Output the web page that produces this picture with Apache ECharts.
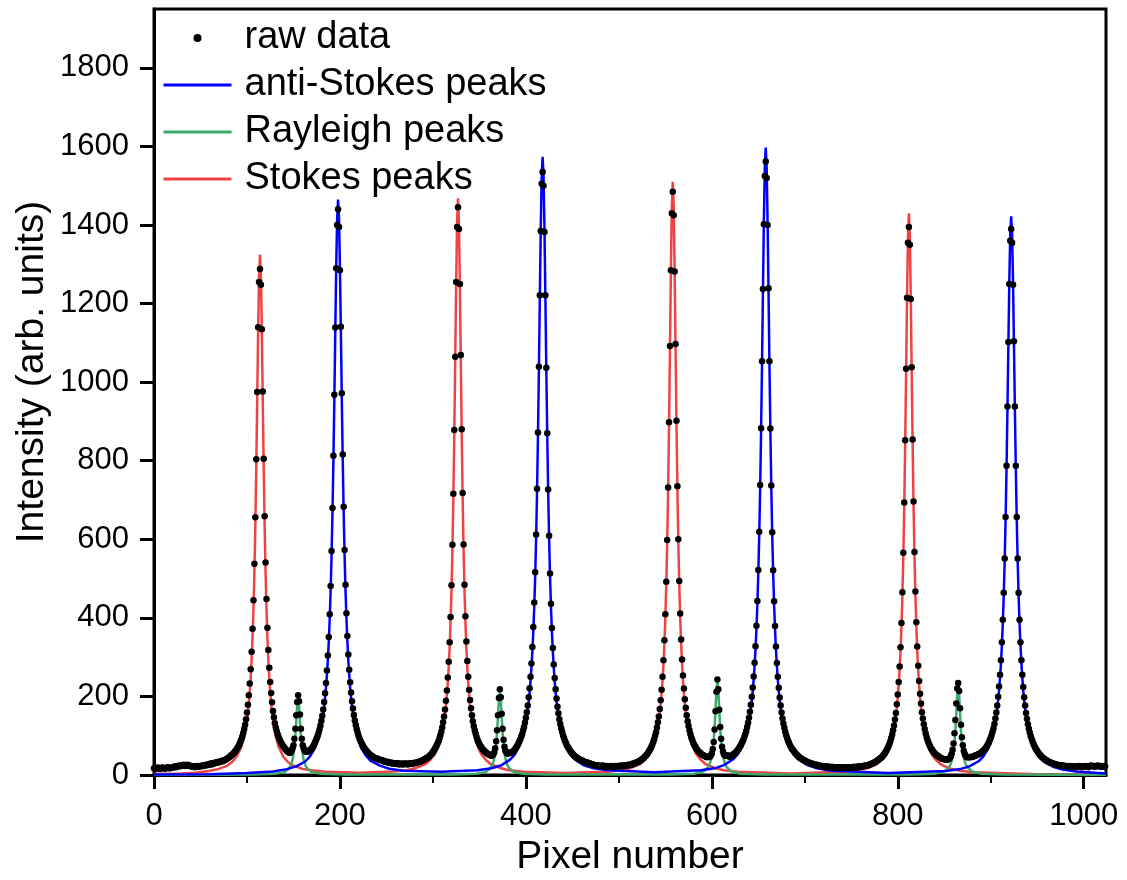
<!DOCTYPE html>
<html>
<head>
<meta charset="utf-8">
<script src="https://cdn.jsdelivr.net/npm/echarts@6/dist/echarts.min.js"></script>
<style>
html,body{margin:0;padding:0;background:#fff;}
#chart{width:1127px;height:880px;}
</style>
</head>
<body>
<div id="chart"></div>
<script>
// raw data: intensity per pixel number 0..1023
const rawData = [
17,18,16,17,19,18,17,16,18,19,
18,17,16,18,19,20,18,17,18,19,
20,19,21,22,20,21,23,24,22,23,
25,24,26,25,23,24,26,25,24,22,
23,22,21,22,20,21,22,23,21,22,
23,22,24,23,25,24,26,25,27,26,
28,29,27,30,29,31,30,32,33,32,
34,33,35,36,35,37,38,39,41,42,
44,46,47,50,51,54,56,60,62,66,
70,74,79,85,91,98,107,117,128,142,
159,179,203,233,269,314,372,445,538,656,
804,975,1140,1255,1288,1248,1135,976,805,659,
541,448,375,318,273,237,209,185,163,147,
132,121,112,104,97,91,86,81,77,73,
70,67,64,61,59,57,56,58,62,68,
76,92,118,152,186,203,188,154,118,92,
76,68,63,60,59,59,60,62,64,66,
69,72,77,82,87,93,99,107,116,126,
138,151,167,186,208,234,266,304,351,409,
481,570,680,813,968,1139,1290,1400,1440,1395,
1285,1141,972,816,683,573,484,412,354,307,
268,236,210,188,169,153,139,127,117,108,
100,93,87,82,77,73,69,66,63,60,
57,55,52,50,49,47,46,44,43,42,
42,40,39,39,38,37,36,36,34,34,
33,34,32,31,32,30,31,29,30,29,
29,28,30,29,27,28,29,28,27,29,
28,29,28,27,29,29,30,28,29,30,
31,30,31,32,33,34,33,35,36,37,
39,40,41,43,44,46,48,50,53,55,
59,62,66,70,75,80,86,93,101,110,
121,134,149,167,189,215,248,288,338,402,
483,586,716,878,1065,1255,1395,1445,1390,1250,
1069,880,718,587,484,404,340,290,250,217,
191,170,152,137,124,114,105,97,90,84,
79,74,71,67,64,62,59,58,55,54,
52,51,50,49,50,53,58,68,86,114,
152,196,218,198,156,118,90,72,62,57,
55,55,56,57,57,58,60,62,65,68,
72,76,80,86,91,98,104,113,122,133,
146,160,177,198,221,250,284,326,377,439,
516,612,729,872,1039,1221,1385,1505,1535,1500,
1382,1221,1037,870,727,609,513,436,374,323,
281,247,218,195,174,157,142,130,119,110,
101,94,87,82,76,72,68,64,60,57,
54,52,49,47,45,44,42,41,39,38,
37,36,34,34,33,32,31,31,30,29,
28,27,27,26,25,24,25,24,23,24,
23,22,23,24,22,22,21,23,22,21,
22,21,23,22,21,22,23,21,22,23,
22,23,24,22,23,24,23,25,24,25,
26,25,27,26,27,29,28,29,31,32,
33,34,35,37,38,40,42,44,47,49,
52,55,59,63,67,72,77,84,91,100,
109,121,134,149,168,190,217,250,292,343,
409,492,598,732,898,1092,1285,1430,1485,1425,
1282,1097,902,735,600,494,411,345,294,253,
220,193,171,152,137,125,113,104,95,89,
82,77,73,69,65,62,59,57,55,53,
51,50,49,48,46,46,46,46,47,50,
55,66,84,116,162,212,243,218,166,122,
92,72,60,53,50,49,49,50,48,47,
47,48,50,52,54,56,58,61,64,67,
71,75,80,85,90,97,104,112,122,133,
146,161,179,199,223,251,286,328,380,443,
522,619,738,883,1053,1237,1402,1525,1562,1520,
1400,1239,1053,882,737,618,521,442,379,327,
285,250,222,197,177,159,144,131,120,110,
101,94,87,82,76,72,67,65,61,58,
55,52,50,48,45,44,42,40,39,38,
36,35,34,33,32,31,30,30,28,28,
26,27,25,26,24,23,24,22,23,22,
21,22,20,21,22,20,21,19,20,21,
19,20,18,19,20,18,19,20,18,19,
18,19,20,18,19,19,18,20,19,18,
19,20,19,21,20,20,21,20,22,21,
22,21,23,22,23,24,23,25,24,26,
27,28,28,30,31,32,33,35,37,38,
40,42,44,46,49,52,55,59,63,68,
73,79,86,94,103,114,126,141,158,180,
205,237,276,325,387,465,566,694,852,1034,
1215,1355,1395,1350,1212,1038,854,696,568,467,
389,327,278,239,207,182,160,144,129,117,
106,97,89,83,77,72,67,64,60,57,
55,52,50,49,47,45,44,42,42,41,
40,40,39,39,40,41,43,47,54,64,
80,106,140,182,220,234,214,170,128,96,
76,62,54,49,46,45,45,45,46,46,
46,47,48,49,50,51,52,53,54,56,
58,60,62,64,67,70,74,78,83,89,
95,102,110,119,130,144,159,177,199,225,
255,292,338,395,464,551,657,787,938,1102,
1250,1360,1390,1355,1248,1104,938,787,657,551,
464,395,338,292,255,224,198,177,158,143,
129,118,108,99,92,85,79,74,69,65,
61,57,54,51,49,46,44,42,40,39,
37,36,34,33,32,31,30,29,28,28,
27,26,26,25,25,24,25,23,24,23,
22,23,22,21,22,23,21,22,20,21,
22,21,20,22,21,23,22,21,20,22,
21,22,23,22,21,20,22,23,24,22,
23,22,21,23,22,24,23,22,21,23,
22,21,23,22
];

// fitted Stokes peaks [pixel, intensity]
const stokesFit = [
[0,3],[30,4],[44,6],[59,10],[69,15],[79,24],[84,33],[89,47],[94,72],[97,98],[99,123],[100,139],[101,159],[102,183],[103,212],[104,248],[105,293],[106,351],[107,424],[108,517],[109,636],[110,782],[111,953],[112,1129],[113,1269],[114,1325],[115,1269],[116,1129],[117,953],[118,782],[119,636],[120,517],[121,424],[122,351],[123,293],[124,248],[125,212],[126,183],[127,159],[128,139],[129,123],[131,98],[134,72],[139,47],[144,33],[149,25],[159,16],[169,12],[184,8],[220,6],
[257,9],[272,12],[282,18],[292,28],[297,38],[302,53],[307,80],[310,108],[312,137],[313,154],[314,176],[315,203],[316,235],[317,275],[318,324],[319,389],[320,470],[321,573],[322,705],[323,866],[324,1055],[325,1251],[326,1406],[327,1468],[328,1406],[329,1251],[330,1055],[331,866],[332,705],[333,573],[334,470],[335,389],[336,324],[337,275],[338,235],[339,203],[340,176],[341,154],[342,137],[344,108],[347,80],[352,53],[357,38],[362,28],[372,18],[382,12],[397,8],[442,5],
[488,8],[503,12],[513,18],[523,28],[528,39],[533,54],[538,82],[541,111],[543,140],[544,159],[545,181],[546,208],[547,241],[548,282],[549,334],[550,400],[551,483],[552,589],[553,725],[554,891],[555,1086],[556,1287],[557,1447],[558,1510],[559,1447],[560,1287],[561,1086],[562,891],[563,725],[564,589],[565,483],[566,400],[567,334],[568,282],[569,241],[570,208],[571,181],[572,159],[573,140],[575,111],[578,82],[583,54],[588,39],[593,28],[603,18],[613,12],[628,8],[685,4],
[742,8],[757,12],[767,17],[777,27],[782,37],[787,52],[792,77],[795,105],[797,133],[798,150],[799,172],[800,197],[801,229],[802,267],[803,316],[804,379],[805,458],[806,558],[807,686],[808,844],[809,1028],[810,1218],[811,1370],[812,1430],[813,1370],[814,1218],[815,1028],[816,844],[817,686],[818,558],[819,458],[820,379],[821,316],[822,267],[823,229],[824,197],[825,172],[826,150],[827,133],[829,105],[832,77],[837,51],[842,36],[847,26],[857,16],[867,11],[882,7],[950,2],[1024,1]
];

// fitted anti-Stokes peaks [pixel, intensity]
const antiStokesFit = [
[0,1],[60,2],[100,5],[128,9],[143,15],[153,22],[163,35],[168,48],[173,68],[178,103],[181,139],[183,174],[184,196],[185,222],[186,255],[187,293],[188,340],[189,398],[190,470],[191,560],[192,670],[193,803],[194,958],[195,1130],[196,1294],[197,1418],[198,1465],[199,1418],[200,1294],[201,1130],[202,958],[203,803],[204,670],[205,560],[206,470],[207,398],[208,340],[209,293],[210,255],[211,222],[212,196],[213,174],[215,139],[218,103],[223,68],[228,49],[233,36],[243,24],[253,16],[268,11],[308,8],
[348,12],[363,17],[373,24],[383,39],[388,52],[393,74],[398,110],[401,149],[403,187],[404,210],[405,239],[406,274],[407,315],[408,365],[409,428],[410,505],[411,601],[412,719],[413,863],[414,1029],[415,1214],[416,1390],[417,1524],[418,1574],[419,1524],[420,1390],[421,1214],[422,1029],[423,863],[424,719],[425,601],[426,505],[427,428],[428,365],[429,315],[430,274],[431,239],[432,210],[433,187],[435,149],[438,110],[443,74],[448,52],[453,39],[463,24],[473,17],[488,12],[538,7],
[588,12],[603,17],[613,25],[623,40],[628,53],[633,74],[638,112],[641,151],[643,190],[644,214],[645,242],[646,278],[647,319],[648,371],[649,434],[650,513],[651,610],[652,730],[653,875],[654,1044],[655,1231],[656,1410],[657,1546],[658,1597],[659,1546],[660,1410],[661,1231],[662,1044],[663,875],[664,730],[665,610],[666,513],[667,434],[668,371],[669,319],[670,278],[671,242],[672,214],[673,190],[675,151],[678,112],[683,74],[688,53],[693,40],[703,25],[713,17],[728,11],[790,5],
[852,10],[867,15],[877,22],[887,35],[892,47],[897,66],[902,100],[905,135],[907,169],[908,190],[909,216],[910,247],[911,284],[912,330],[913,387],[914,456],[915,543],[916,650],[917,779],[918,930],[919,1096],[920,1256],[921,1376],[922,1422],[923,1376],[924,1256],[925,1096],[926,930],[927,779],[928,650],[929,543],[930,456],[931,387],[932,330],[933,284],[934,247],[935,216],[936,190],[937,169],[939,135],[942,100],[947,66],[952,47],[957,34],[967,21],[977,14],[992,9],[1024,4]
];

// fitted Rayleigh peaks [pixel, intensity]
const rayleighFit = [
[0,0],[105,1],[130,3],[140,7],[145,16],[147,24],[148,30],[149,39],[150,52],[151,71],[152,98],[153,136],[154,176],[155,196],[156,176],[157,136],[158,98],[159,71],[160,52],[161,39],[162,30],[163,24],[165,16],[170,7],[180,3],[205,1],
[322,1],[347,3],[357,8],[362,18],[364,26],[365,33],[366,43],[367,57],[368,77],[369,108],[370,149],[371,194],[372,215],[373,194],[374,149],[375,108],[376,77],[377,57],[378,43],[379,33],[380,26],[382,18],[387,8],[397,3],[422,1],
[556,1],[581,3],[591,9],[596,20],[598,30],[599,37],[600,48],[601,64],[602,86],[603,120],[604,166],[605,216],[606,240],[607,216],[608,166],[609,120],[610,86],[611,64],[612,48],[613,37],[614,30],[616,20],[621,9],[631,3],[656,1],
[815,1],[840,3],[850,9],[855,19],[857,28],[858,36],[859,46],[860,60],[861,82],[862,114],[863,158],[864,205],[865,228],[866,205],[867,158],[868,114],[869,82],[870,60],[871,46],[872,36],[873,28],[875,19],[880,9],[890,3],[915,1],[1024,0]
];

const xTicks = [0, 200, 400, 600, 800, 1000];
const xMinorTicks = [100, 300, 500, 700, 900];
const yTicks = [0, 200, 400, 600, 800, 1000, 1200, 1400, 1600, 1800];
const legendNames = ['raw data', 'anti-Stokes peaks', 'Rayleigh peaks', 'Stokes peaks'];

const FONT = '"Liberation Sans", Arial, sans-serif';
const chart = echarts.init(document.getElementById('chart'), null, {renderer: 'canvas'});
const hideDot = {color: 'rgba(0,0,0,0)', borderWidth: 0, opacity: 0};

chart.setOption({
  backgroundColor: '#ffffff',
  animation: false,
  grid: {left: 154, right: 21, top: 9, bottom: 105, show: true, borderColor: '#000', borderWidth: 3, backgroundColor: 'transparent'},
  legend: {
    orient: 'vertical', left: 162, top: 18, padding: 0, itemWidth: 68, itemHeight: 8, itemGap: 7,
    selectedMode: false,
    data: [
      {name: legendNames[0], icon: 'circle'},
      {name: legendNames[1], itemStyle: hideDot},
      {name: legendNames[2], itemStyle: hideDot},
      {name: legendNames[3], itemStyle: hideDot}
    ],
    lineStyle: {width: 3},
    textStyle: {fontSize: 38, fontFamily: FONT, color: '#000', lineHeight: 40, padding: [0, 0, 0, 8]}
  },
  xAxis: [{
    type: 'value', min: 0, max: 1024, position: 'bottom',
    axisLine: {show: true, onZero: false, lineStyle: {color: '#000', width: 3}},
    axisTick: {show: true, inside: false, length: 14, lineStyle: {color: '#000', width: 3}, customValues: xTicks},
    axisLabel: {show: true, customValues: xTicks, formatter: v => String(v), fontSize: 31, fontFamily: FONT, color: '#000', margin: 26},
    splitLine: {show: false}
  }, {
    type: 'value', min: 0, max: 1024, position: 'bottom', gridIndex: 0,
    axisLine: {show: false},
    axisTick: {show: true, inside: false, length: 8, lineStyle: {color: '#000', width: 2}, customValues: xMinorTicks},
    axisLabel: {show: false},
    splitLine: {show: false}
  }],
  yAxis: {
    type: 'value', min: 0, max: 1950,
    axisLine: {show: true, onZero: false, lineStyle: {color: '#000', width: 3}},
    axisTick: {show: true, inside: false, length: 14, lineStyle: {color: '#000', width: 3}, customValues: yTicks},
    axisLabel: {show: true, customValues: yTicks, formatter: v => String(v), fontSize: 31, fontFamily: FONT, color: '#000', margin: 25},
    splitLine: {show: false}
  },
  graphic: [
    {type: 'text', x: 630, y: 857, style: {text: 'Pixel number', fontSize: 39, fontFamily: FONT, fill: '#000', align: 'center', verticalAlign: 'middle'}},
    {type: 'text', x: 32, y: 372, rotation: Math.PI / 2, style: {text: 'Intensity (arb. units)', fontSize: 39, fontFamily: FONT, fill: '#000', align: 'center', verticalAlign: 'middle'}}
  ],
  series: [
    {name: 'Stokes peaks', type: 'line', data: stokesFit, symbol: 'none', showSymbol: false, lineStyle: {color: '#F04242', width: 2.5}, itemStyle: {color: '#F04242'}, z: 2},
    {name: 'Rayleigh peaks', type: 'line', data: rayleighFit, symbol: 'none', showSymbol: false, lineStyle: {color: '#3DAA6C', width: 2.5}, itemStyle: {color: '#3DAA6C'}, z: 2},
    {name: 'anti-Stokes peaks', type: 'line', data: antiStokesFit, symbol: 'none', showSymbol: false, lineStyle: {color: '#0000FF', width: 2.5}, itemStyle: {color: '#0000FF'}, z: 2},
    {name: 'raw data', type: 'scatter', data: rawData.map((v, i) => [i, v]), symbol: 'circle', symbolSize: 6.5, itemStyle: {color: '#000', opacity: 1}, z: 3, silent: true}
  ]
});
</script>
</body>
</html>
